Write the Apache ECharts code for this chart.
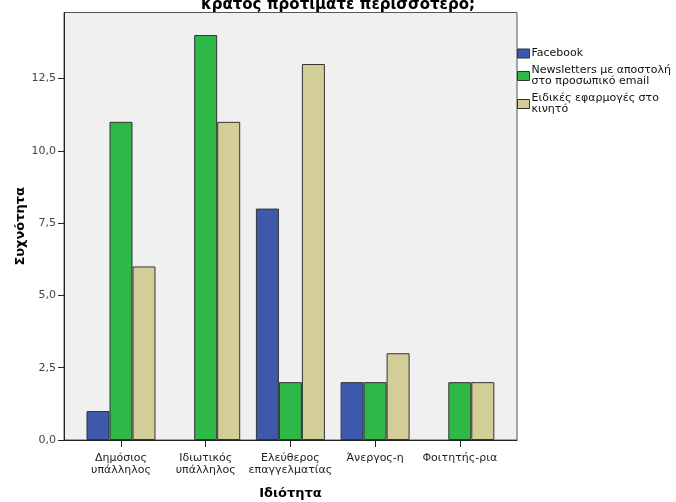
<!DOCTYPE html>
<html>
<head>
<meta charset="utf-8">
<script src="https://cdn.jsdelivr.net/npm/echarts@6/dist/echarts.min.js"></script>
<style>
html,body{margin:0;padding:0;background:#fff;}
#c{width:676px;height:502px;}
</style>
</head>
<body>
<div id="c"></div>
<script>
const titleText = 'κράτος προτιμάτε περισσότερο;';
const categories = ['Δημόσιος\nυπάλληλος', 'Ιδιωτικός\nυπάλληλος', 'Ελεύθερος\nεπαγγελματίας', 'Άνεργος-η', 'Φοιτητής-ρια'];
const seriesNames = ['Facebook', 'Newsletters με αποστολή\nστο προσωπικό email', 'Ειδικές εφαρμογές στο\nκινητό'];
const facebook = [1, 0, 8, 2, 0];
const newsletters = [11, 14, 2, 2, 2];
const apps = [6, 11, 13, 3, 2];
const yTicks = [0, 2.5, 5, 7.5, 10, 12.5];
const yMax = 14.78;
const xName = 'Ιδιότητα';
const yName = 'Συχνότητα';

const colors = ['#3E58AC', '#2EB848', '#D3CE97'];
const font = '"DejaVu Sans", Verdana, sans-serif';
const fmt = v => v.toFixed(1).replace('.', ',');
const toData = arr => arr.map(v => (v === 0 ? '-' : v));

const chart = echarts.init(document.getElementById('c'), null, {renderer: 'canvas'});
const plotTop = 12.5, plotBottom = 62;
chart.setOption({
  animation: false,
  backgroundColor: '#ffffff',
  color: colors,
  textStyle: {fontFamily: font},
  title: {
    text: titleText,
    left: 'center',
    top: -3, padding: 0,
    textStyle: {fontFamily: font, fontSize: 15, fontWeight: 'bold', color: '#000', lineHeight: 16}
  },
  legend: {
    orient: 'vertical',
    left: 517, top: 48,
    padding: 0,
    itemWidth: 12, itemHeight: 9,
    itemGap: 6,
    icon: 'rect',
    data: seriesNames,
    itemStyle: {borderColor: '#333', borderWidth: 1},
    textStyle: {fontFamily: font, fontSize: 11, color: '#111', lineHeight: 11, padding: [0,0,0,-3]}
  },
  grid: [
    {left: 64, top: plotTop, width: 453, bottom: plotBottom, show: true, backgroundColor: '#F0F0F0', borderColor: '#555', borderWidth: 1, containLabel: false, outerBoundsMode: 'none'},
    {left: 78.65, top: plotTop, width: 423.5, bottom: plotBottom, containLabel: false, outerBoundsMode: 'none'}
  ],
  xAxis: [
    {
      type: 'value', gridIndex: 0, min: 0, max: 1,
      axisLine: {show: true, lineStyle: {color: '#222', width: 1}},
      axisTick: {show: false}, axisLabel: {show: false}, splitLine: {show: false},
      name: xName, nameLocation: 'middle', nameGap: 47, nameMoveOverlap: false,
      nameTextStyle: {fontFamily: font, fontSize: 13, fontWeight: 'bold', color: '#000'}
    },
    {
      type: 'category', gridIndex: 1, data: categories,
      axisLine: {show: false},
      axisTick: {show: true, alignWithLabel: true, length: 7, lineStyle: {color: '#222'}},
      axisLabel: {fontFamily: font, fontSize: 11, color: '#222', margin: 12, lineHeight: 12, interval: 0}
    }
  ],
  yAxis: [
    {
      type: 'value', gridIndex: 0, min: 0, max: yMax,
      axisLine: {show: true, lineStyle: {color: '#222', width: 1}},
      axisTick: {show: true, length: 6, lineStyle: {color: '#222'}, customValues: yTicks},
      axisLabel: {fontFamily: font, fontSize: 11, color: '#444', margin: 8, customValues: yTicks, formatter: v => fmt(v)},
      splitLine: {show: false},
      name: yName, nameLocation: 'middle', nameGap: 37, nameMoveOverlap: false,
      nameTextStyle: {fontFamily: font, fontSize: 13, fontWeight: 'bold', color: '#000'}
    },
    {type: 'value', gridIndex: 1, min: 0, max: yMax, show: false, splitLine: {show: false}}
  ],
  series: [facebook, newsletters, apps].map((arr, i) => ({
    name: seriesNames[i],
    type: 'bar',
    xAxisIndex: 1, yAxisIndex: 1,
    data: toData(arr),
    barWidth: 23,
    barGap: '0%',
    itemStyle: {color: colors[i], borderColor: '#333', borderWidth: 1}
  }))
});
</script>
</body>
</html>
